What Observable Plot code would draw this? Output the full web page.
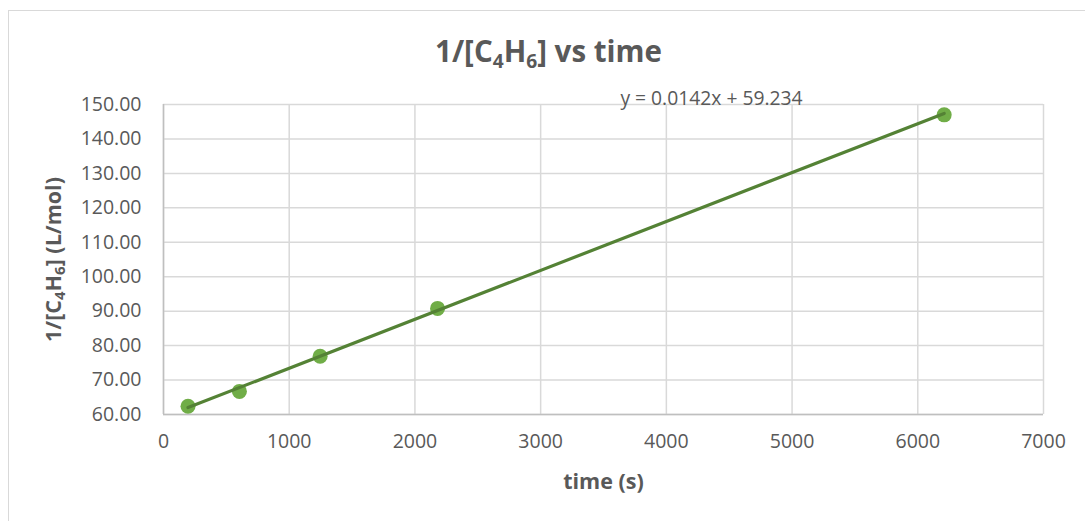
<!DOCTYPE html>
<html>
<head>
<meta charset="utf-8">
<script src="https://cdn.jsdelivr.net/npm/d3@7"></script>
<script src="https://cdn.jsdelivr.net/npm/@observablehq/plot@0.6"></script>
<style>
  html, body { margin: 0; padding: 0; background: #fff; }
  body { width: 1085px; height: 521px; overflow: hidden; position: relative; font-family: "Open Sans", sans-serif; }
  #frame { position: absolute; left: 8px; top: 10px; width: 1090px; height: 520px; border: 1.5px solid #d9d9d9; box-sizing: border-box; z-index: 5; pointer-events: none; }
  #title { height: 70px; box-sizing: border-box; padding-top: 33px; text-align: center; font-weight: bold; font-size: 29.5px; color: #595959; line-height: 36px; padding-left: 12px; position: relative; z-index: 2; }
  #title sub { font-size: 0.65em; vertical-align: -0.3em; line-height: 0; }
  #chart { position: relative; }
</style>
</head>
<body>
<div id="frame"></div>
<div id="title">1/[C<sub>4</sub>H<sub>6</sub>] vs time</div>
<div id="chart"></div>
<script>
const times = [195, 604, 1246, 2180, 6210];
const invConc = [62.4, 66.7, 76.9, 90.8, 147.0];
const slope = 0.0142;
const intercept = 59.234;
const xTicks = [0, 1000, 2000, 3000, 4000, 5000, 6000, 7000];
const yTicks = [60, 70, 80, 90, 100, 110, 120, 130, 140, 150];
const equationLabel = "y = 0.0142x + 59.234";

const points = times.map((t, i) => ({t, v: invConc[i]}));
const tMin = d3.min(times), tMax = d3.max(times);
const trend = [tMin, tMax].map(t => ({t, v: slope * t + intercept}));

const textColor = "#595959";
const gridColor = "#d9d9d9";

const svg = Plot.plot({
  width: 1085,
  height: 451,
  marginTop: 34,
  marginBottom: 107,
  marginLeft: 163,
  marginRight: 42,
  style: {fontFamily: "Open Sans, sans-serif", fontSize: "19.5px", color: textColor, background: "transparent"},
  x: {domain: [0, 7000]},
  y: {domain: [60, 150]},
  marks: [
    Plot.gridX(xTicks, {stroke: gridColor, strokeOpacity: 1, strokeWidth: 1.5}),
    Plot.gridY(yTicks, {stroke: gridColor, strokeOpacity: 1, strokeWidth: 1.5}),
    Plot.ruleX([0], {stroke: "#bfbfbf", strokeWidth: 1.5}),
    Plot.ruleY([60], {stroke: "#bfbfbf", strokeWidth: 1.5}),
    Plot.axisX({ticks: xTicks, tickSize: 0, tickPadding: 20, tickFormat: d3.format("d"), label: "time (s)", labelAnchor: "center", labelArrow: "none", labelOffset: 74, fill: textColor}),
    Plot.axisY({ticks: yTicks, tickSize: 0, tickPadding: 22, tickFormat: d3.format(".2f"), label: "1/[C4H6] (L/mol)", labelAnchor: "center", labelArrow: "none", labelOffset: 118, fill: textColor}),
    Plot.dot(points, {x: "t", y: "v", r: 7.5, fill: "#70ad47", stroke: "none"}),
    Plot.line(trend, {x: "t", y: "v", stroke: "#548235", strokeWidth: 3.2}),
    Plot.text([equationLabel], {frameAnchor: "top", dx: 108, dy: -13, fill: textColor, fontSize: 19.3})
  ]
});

// Style axis labels (bold, with subscripts)
const sel = d3.select(svg);
sel.selectAll('g[aria-label="x-axis label"] text, g[aria-label="y-axis label"] text')
  .attr("font-weight", "bold").attr("font-size", "21.5px").attr("fill", textColor);
const yl = sel.select('g[aria-label="y-axis label"] text');
yl.text(null);
yl.append("tspan").text("1/[C");
yl.append("tspan").attr("baseline-shift", "-25%").attr("font-size", "15px").text("4");
yl.append("tspan").text("H");
yl.append("tspan").attr("baseline-shift", "-25%").attr("font-size", "15px").text("6");
yl.append("tspan").text("] (L/mol)");

document.getElementById("chart").appendChild(svg);
</script>
</body>
</html>
